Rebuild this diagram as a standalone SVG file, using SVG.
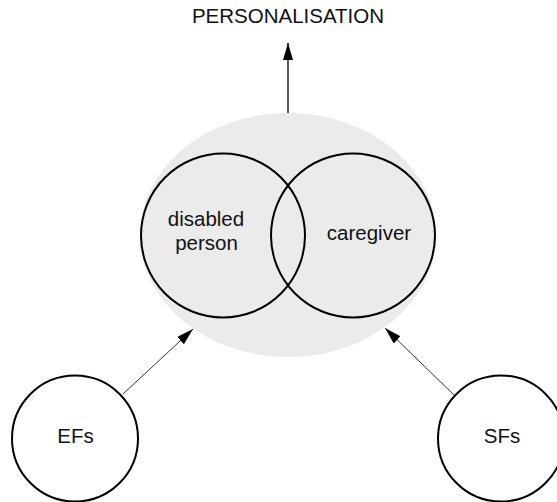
<svg xmlns="http://www.w3.org/2000/svg" width="557" height="502" viewBox="0 0 557 502">
<style>
.c{fill:none;stroke:#000;stroke-width:2}
.t{font-family:"Liberation Sans",Arial,sans-serif;font-size:20.5px;fill:#111;text-anchor:middle}
.a{stroke:#000;fill:none}
</style>
<defs>
<marker id="ah" viewBox="0 0 17 10" refX="17" refY="5" markerWidth="17" markerHeight="10" markerUnits="userSpaceOnUse" orient="auto">
<path d="M0,0 L17,5 L0,10 Z" fill="#000"/>
</marker>
</defs>
<rect width="557" height="502" fill="#fff"/>
<g id="group">
<ellipse cx="288" cy="235" rx="148" ry="122" fill="#ebebeb"/>
</g>
<g id="disabled-person">
<circle class="c" cx="223" cy="235.5" r="82"/>
<text class="t" x="206" y="226">disabled</text>
<text class="t" x="206.5" y="250">person</text>
</g>
<g id="caregiver">
<circle class="c" cx="353" cy="235.5" r="82"/>
<text class="t" x="369" y="240">caregiver</text>
</g>
<g id="personalisation">
<text class="t" x="288" y="23">PERSONALISATION</text>
</g>
<g id="efs">
<circle class="c" cx="75" cy="438.5" r="63"/>
<text class="t" x="75.5" y="443">EFs</text>
</g>
<g id="sfs">
<circle class="c" cx="501" cy="438.5" r="63"/>
<text class="t" x="502" y="443">SFs</text>
</g>
<g id="connectors">
<line class="a" x1="288" y1="113" x2="288" y2="43" stroke-width="1.3" marker-end="url(#ah)"/>
<line class="a" x1="123" y1="394" x2="193" y2="329" stroke-width="0.8" marker-end="url(#ah)"/>
<line class="a" x1="454" y1="395" x2="385" y2="328" stroke-width="0.8" marker-end="url(#ah)"/>
</g>
</svg>
